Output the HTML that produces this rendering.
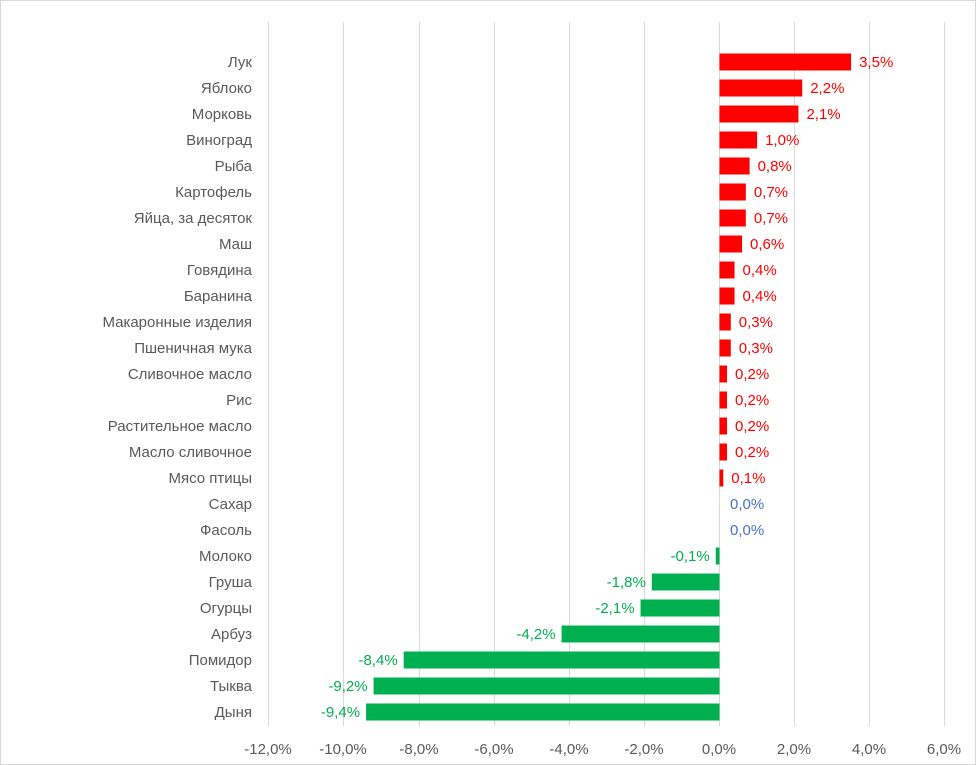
<!DOCTYPE html>
<html><head><meta charset="utf-8"><style>
body{margin:0;background:#fff}
svg{display:block;font-family:"Liberation Sans",sans-serif}
</style></head><body>
<svg width="976" height="765" xmlns="http://www.w3.org/2000/svg">
<rect x="0.5" y="0.5" width="975" height="764" fill="#fff" stroke="#d9d9d9"/>
<g stroke="#d9d9d9" stroke-width="1">
<line x1="268.5" y1="22" x2="268.5" y2="726"/>
<line x1="343.5" y1="22" x2="343.5" y2="726"/>
<line x1="419.5" y1="22" x2="419.5" y2="726"/>
<line x1="494.5" y1="22" x2="494.5" y2="726"/>
<line x1="569.5" y1="22" x2="569.5" y2="726"/>
<line x1="644.5" y1="22" x2="644.5" y2="726"/>
<line x1="719.5" y1="22" x2="719.5" y2="726"/>
<line x1="794.5" y1="22" x2="794.5" y2="726"/>
<line x1="869.5" y1="22" x2="869.5" y2="726"/>
<line x1="944.5" y1="22" x2="944.5" y2="726"/>
</g>
<g font-size="15" fill="#595959" text-anchor="middle">
<text x="268" y="754">-12,0%</text><text x="343" y="754">-10,0%</text><text x="419" y="754">-8,0%</text>
<text x="494" y="754">-6,0%</text><text x="569" y="754">-4,0%</text><text x="644" y="754">-2,0%</text>
<text x="719" y="754">0,0%</text><text x="794" y="754">2,0%</text><text x="869" y="754">4,0%</text><text x="944" y="754">6,0%</text>
</g>
<g id="rows" font-size="15"></g>
<script>
const d=[["Лук",3.5],["Яблоко",2.2],["Морковь",2.1],["Виноград",1.0],["Рыба",0.8],["Картофель",0.7],["Яйца, за десяток",0.7],["Маш",0.6],["Говядина",0.4],["Баранина",0.4],["Макаронные изделия",0.3],["Пшеничная мука",0.3],["Сливочное масло ",0.2],["Рис ",0.2],["Растительное масло",0.2],["Масло сливочное",0.2],["Мясо птицы",0.1],["Сахар",0],["Фасоль",0],["Молоко",-0.1],["Груша",-1.8],["Огурцы",-2.1],["Арбуз",-4.2],["Помидор",-8.4],["Тыква",-9.2],["Дыня ",-9.4]];
const g=document.getElementById('rows');const ns="http://www.w3.org/2000/svg";const s=37.6,z=719.5;
d.forEach((r,i)=>{const y=62+i*26.0;
let t=document.createElementNS(ns,'text');t.setAttribute('x',252);t.setAttribute('y',y+5);t.setAttribute('text-anchor','end');t.setAttribute('fill','#595959');t.setAttribute('xml:space','preserve');t.textContent=r[0];g.appendChild(t);
const v=r[1];const lab=(v<0?'-':'')+Math.abs(v).toFixed(1).replace('.',',')+'%';
let l=document.createElementNS(ns,'text');l.setAttribute('y',y+5);
if(v>0){const w=v*s;let b=document.createElementNS(ns,'rect');b.setAttribute('x',z);b.setAttribute('y',y-8.5);b.setAttribute('width',w);b.setAttribute('height',17);b.setAttribute('fill','#ff0000');g.appendChild(b);l.setAttribute('x',z+w+8);l.setAttribute('fill','#ff0000');}
else if(v<0){const w=-v*s;let b=document.createElementNS(ns,'rect');b.setAttribute('x',z-w);b.setAttribute('y',y-8.5);b.setAttribute('width',w);b.setAttribute('height',17);b.setAttribute('fill','#00b050');g.appendChild(b);l.setAttribute('x',z-w-6);l.setAttribute('text-anchor','end');l.setAttribute('fill','#00b050');}
else{l.setAttribute('x',730);l.setAttribute('fill','#4472c4');}
l.textContent=lab;g.appendChild(l);});
</script>
</svg>
</body></html>
